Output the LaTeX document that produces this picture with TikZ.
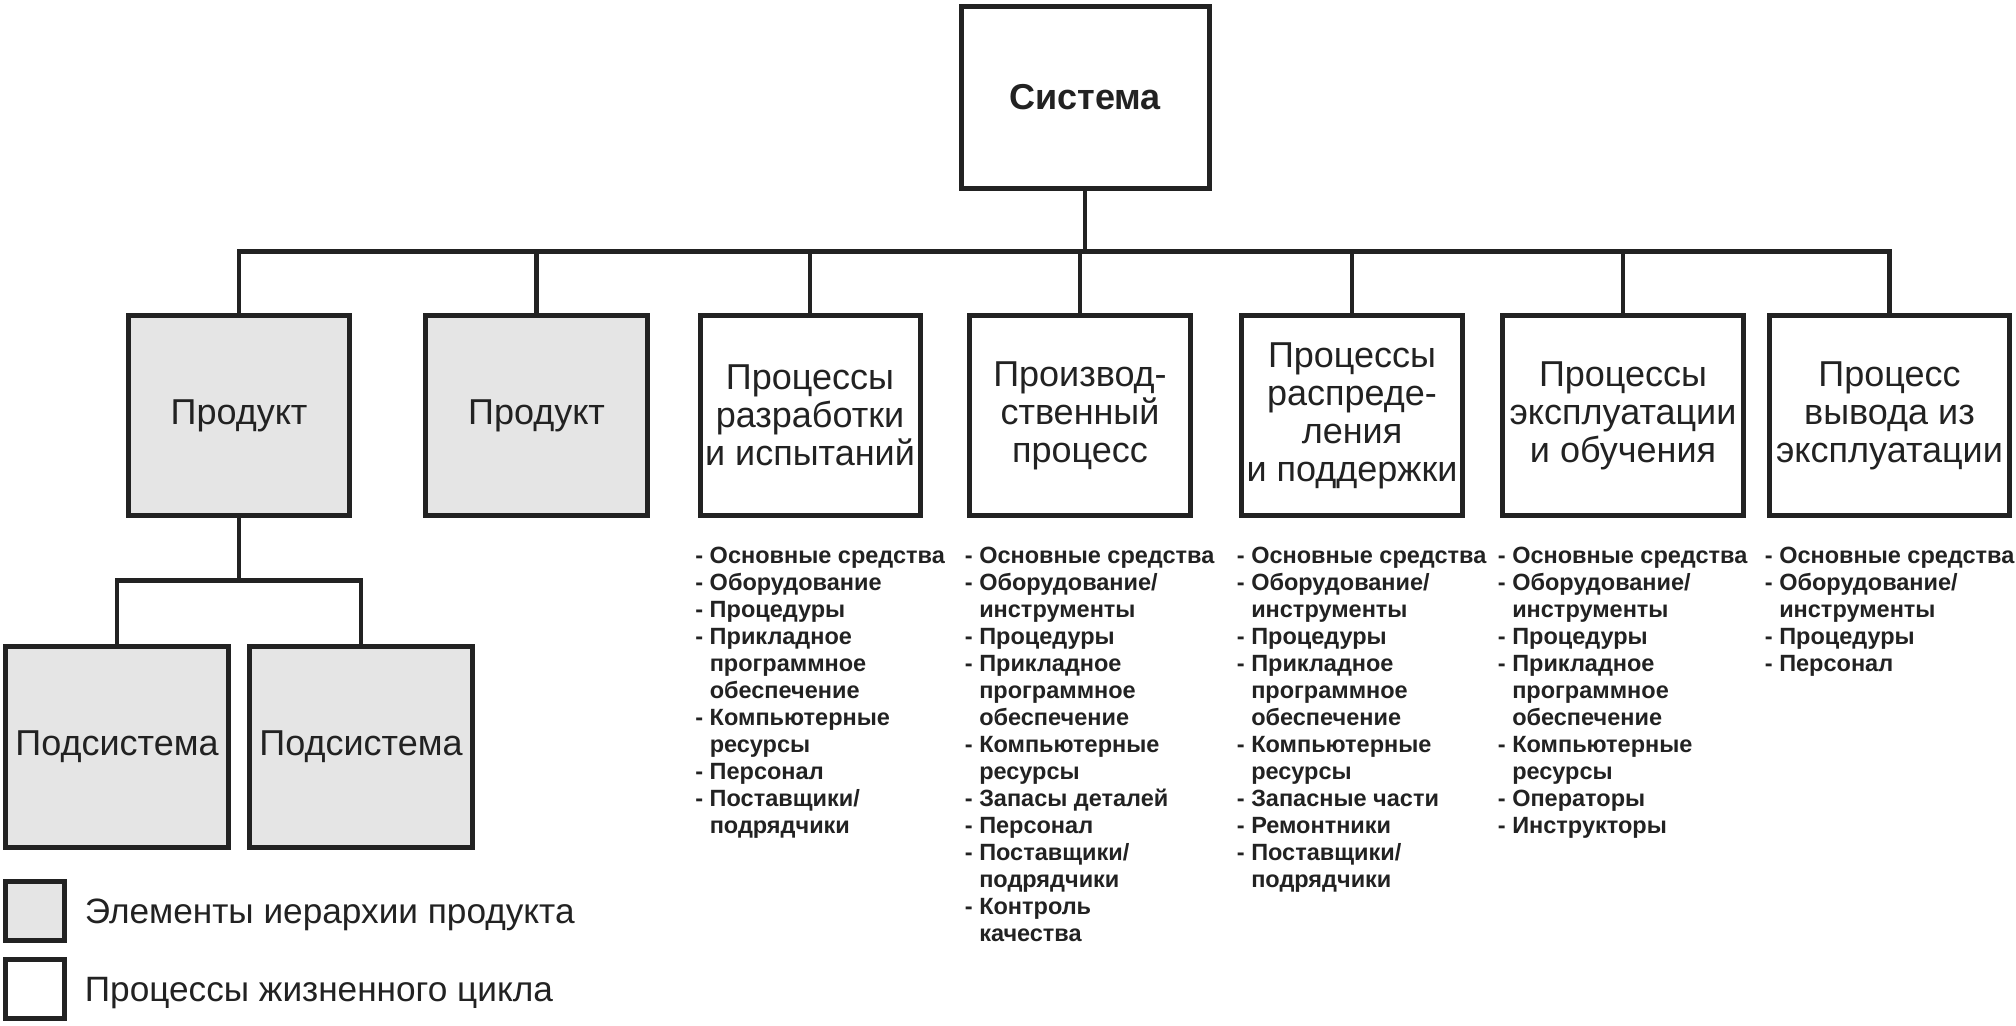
\documentclass[tikz,border=0pt]{standalone}
\usepackage{fontspec}
\setmainfont{Liberation Sans}
\definecolor{ink}{HTML}{222222}
\definecolor{prodfill}{HTML}{E5E5E5}
\newcommand{\ind}{\hphantom{-\ }}
\begin{document}
\begin{tikzpicture}[x=0.5pt,y=-0.5pt,
  box/.style={draw=ink, line width=2.5pt, inner sep=0pt, text=ink, align=center,
    font=\fontsize{18}{19}\selectfont},
  prod/.style={box, fill=prodfill},
  proc/.style={box, fill=white},
  rowbox/.style={minimum height=100.25pt},
  items/.style={font=\bfseries\fontsize{11.75}{13.5}\selectfont, align=left,
    anchor=north west, inner sep=0pt, text=ink},
  legtext/.style={font=\fontsize{17.6}{19}\selectfont, anchor=base west, inner sep=0pt, text=ink},
  link/.style={draw=ink, line width=2.3pt}
]
\useasboundingbox (0,0) rectangle (2016,1025);
\fill[white] (0,0) rectangle (2016,1025);

% top
\node[proc, font=\bfseries\fontsize{18}{19}\selectfont, minimum width=124pt, minimum height=91pt] (sys) at (1085,97) {Система};

% row
\node[prod, rowbox, minimum width=110.5pt] (p1) at (239,415.5) {Продукт};
\node[prod, rowbox, minimum width=111pt] (p2) at (536.5,415.5) {Продукт};
\node[proc, rowbox, minimum width=110pt] (b3) at (810,415.5) {Процессы\\разработки\\и испытаний};
\node[proc, rowbox, minimum width=110.5pt] (b4) at (1080,415.5) {Производ-\\ственный\\процесс};
\node[proc, rowbox, minimum width=110.5pt] (b5) at (1352,415.5) {Процессы\\распреде-\\ления\\и поддержки};
\node[proc, rowbox, minimum width=120.5pt] (b6) at (1623,415.5) {Процессы\\эксплуатации\\и обучения};
\node[proc, rowbox, minimum width=120pt] (b7) at (1889.5,415.5) {Процесс\\вывода из\\эксплуатации};

% subsystems
\node[prod, minimum width=111.5pt, minimum height=100.5pt] (s1) at (117,747) {Подсистема};
\node[prod, minimum width=111.5pt, minimum height=100.5pt] (s2) at (361,747) {Подсистема};

% connectors
\coordinate (bar) at (1085,251.5);
\draw[link] (p1.north) |- (bar) -| (b7.north);
\draw[link] (sys.south) -- (bar);
\foreach \n in {p2,b3,b4,b5,b6}{\draw[link] (\n.north) -- (\n.north |- bar);}
\coordinate (sbar) at (239,580.5);
\draw[link] (p1.south) -- (sbar);
\draw[link] (s1.north) |- (sbar) -| (s2.north);

% lists
\node[items] (l3) at ([xshift=-1.25pt, yshift=-14.25pt]b3.south west) {- Основные средства\\- Оборудование\\- Процедуры\\- Прикладное\\\ind программное\\\ind обеспечение\\- Компьютерные\\\ind ресурсы\\- Персонал\\- Поставщики/\\\ind подрядчики};
\node[items] (l4) at ([xshift=-1.25pt, yshift=-14.25pt]b4.south west) {- Основные средства\\- Оборудование/\\\ind инструменты\\- Процедуры\\- Прикладное\\\ind программное\\\ind обеспечение\\- Компьютерные\\\ind ресурсы\\- Запасы деталей\\- Персонал\\- Поставщики/\\\ind подрядчики\\- Контроль\\\ind качества};
\node[items] (l5) at ([xshift=-1.25pt, yshift=-14.25pt]b5.south west) {- Основные средства\\- Оборудование/\\\ind инструменты\\- Процедуры\\- Прикладное\\\ind программное\\\ind обеспечение\\- Компьютерные\\\ind ресурсы\\- Запасные части\\- Ремонтники\\- Поставщики/\\\ind подрядчики};
\node[items] (l6) at ([xshift=-1.25pt, yshift=-14.25pt]b6.south west) {- Основные средства\\- Оборудование/\\\ind инструменты\\- Процедуры\\- Прикладное\\\ind программное\\\ind обеспечение\\- Компьютерные\\\ind ресурсы\\- Операторы\\- Инструкторы};
\node[items] (l7) at ([xshift=-1.25pt, yshift=-14.25pt]b7.south west) {- Основные средства\\- Оборудование/\\\ind инструменты\\- Процедуры\\- Персонал};

% legend
\node[prod, minimum width=29.5pt, minimum height=29.5pt] (lg1) at (35,911) {};
\node[proc, minimum width=29.5pt, minimum height=29.5pt] (lg2) at (35,989) {};
\node[legtext] (lt1) at ([xshift=8.75pt, yshift=-6pt]lg1.east) {Элементы иерархии продукта};
\node[legtext] (lt2) at ([xshift=8.75pt, yshift=-6pt]lg2.east) {Процессы жизненного цикла};
\end{tikzpicture}
\end{document}
